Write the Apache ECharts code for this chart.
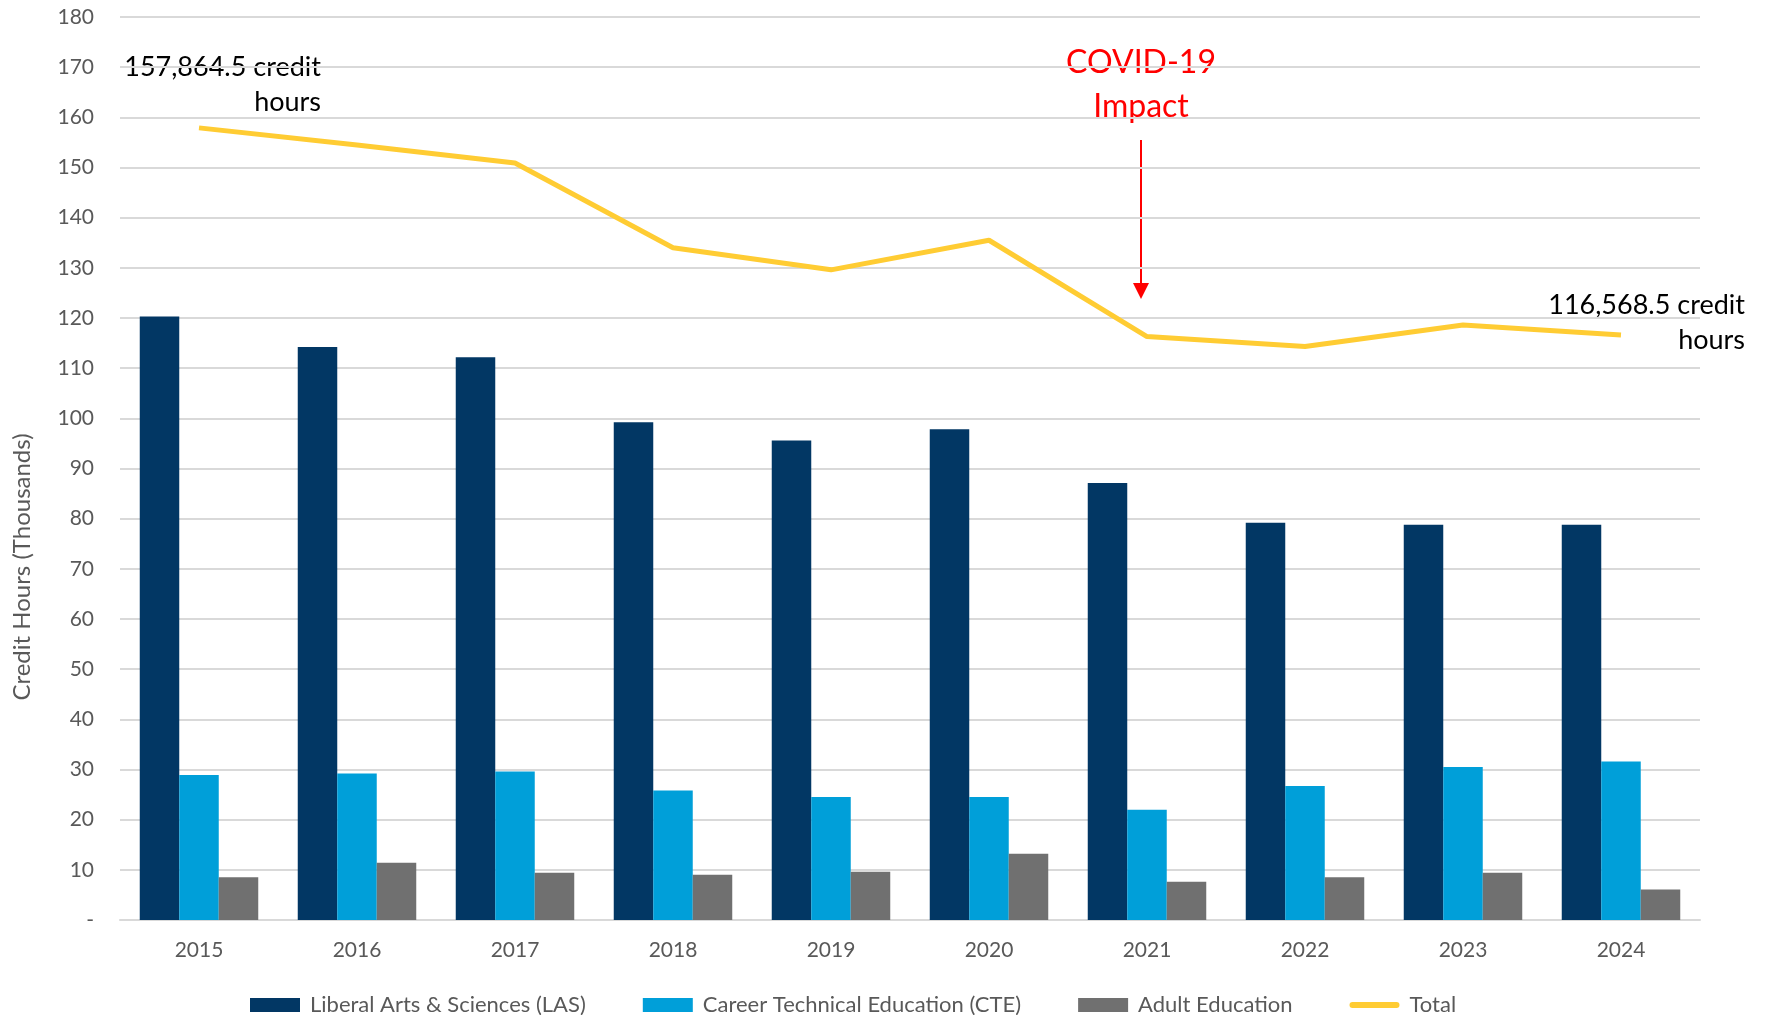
<!DOCTYPE html>
<html>
<head>
<meta charset="utf-8">
<script src="https://cdn.jsdelivr.net/npm/echarts@6/dist/echarts.min.js"></script>
<style>
  html, body { margin: 0; padding: 0; background: #fff; }
  #chart { width: 1765px; height: 1015px; }
</style>
</head>
<body>
<div id="chart"></div>
<script>
const years = ["2015", "2016", "2017", "2018", "2019", "2020", "2021", "2022", "2023", "2024"];
const lasValues = [120.3, 114.2, 112.2, 99.2, 95.6, 97.8, 87.1, 79.2, 78.8, 78.8];
const cteValues = [28.9, 29.2, 29.6, 25.8, 24.5, 24.5, 22.0, 26.7, 30.5, 31.6];
const adultValues = [8.5, 11.4, 9.4, 9.0, 9.6, 13.2, 7.6, 8.5, 9.4, 6.1];
const totalValues = [157.9, 154.5, 150.9, 134.0, 129.6, 135.5, 116.3, 114.3, 118.6, 116.6];

const FONT = "Lato, 'Open Sans', sans-serif";
const labelGrey = "#595959";

const chart = echarts.init(document.getElementById("chart"));

chart.setOption({
  animation: false,
  textStyle: { fontFamily: FONT },
  grid: {
    left: 120,
    right: 65,
    top: 17,
    bottom: 95,
    containLabel: false,
    outerBoundsMode: "none",
  },
  legend: {
    left: 245,
    top: 989,
    itemWidth: 50,
    itemHeight: 14,
    itemGap: 57,
    textStyle: {
      fontSize: 22,
      color: labelGrey,
      fontFamily: FONT,
      padding: [0, 0, 0, 5],
    },
    data: [
      { name: "Liberal Arts & Sciences (LAS)", icon: "rect" },
      { name: "Career Technical Education (CTE)", icon: "rect" },
      { name: "Adult Education", icon: "rect" },
      {
        name: "Total",
        icon: "path://M3,0 L47,0 A3,3 0 0 1 47,6 L3,6 A3,3 0 0 1 3,0 Z",
      },
    ],
  },
  xAxis: {
    type: "category",
    data: years,
    axisLine: { lineStyle: { color: "#d9d9d9", width: 2 } },
    axisTick: { show: false },
    axisLabel: { color: labelGrey, fontSize: 21, margin: 20 },
  },
  yAxis: {
    type: "value",
    min: 0,
    max: 180,
    interval: 10,
    axisLine: { show: false },
    axisTick: { show: false },
    splitLine: { lineStyle: { color: "#d9d9d9", width: 2 } },
    axisLabel: {
      color: labelGrey,
      fontSize: 21,
      margin: 26,
      formatter: (v) => (v === 0 ? "-" : String(v)),
    },
  },
  series: [
    {
      name: "Liberal Arts & Sciences (LAS)",
      type: "bar",
      data: lasValues,
      barGap: "0%",
      barCategoryGap: "25%",
      itemStyle: { color: "#023764" },
    },
    {
      name: "Career Technical Education (CTE)",
      type: "bar",
      data: cteValues,
      itemStyle: { color: "#009FD9" },
    },
    {
      name: "Adult Education",
      type: "bar",
      data: adultValues,
      itemStyle: { color: "#707070" },
    },
    {
      name: "Total",
      type: "line",
      data: totalValues,
      symbol: "none",
      lineStyle: { color: "#FFCC33", width: 5 },
      itemStyle: { color: "#FFCC33" },
      z: 5,
    },
  ],
  graphic: [
    {
      type: "text",
      x: 22,
      y: 567,
      rotation: Math.PI / 2,
      style: {
        text: "Credit Hours (Thousands)",
        align: "center",
        verticalAlign: "middle",
        font: "24px " + FONT,
        fill: labelGrey,
      },
    },
    {
      type: "text",
      x: 321,
      y: 50,
      style: {
        text: "157,864.5 credit\nhours",
        align: "right",
        verticalAlign: "top",
        lineHeight: 35,
        font: "27px " + FONT,
        fill: "#000",
      },
    },
    {
      type: "text",
      x: 1745,
      y: 288,
      style: {
        text: "116,568.5 credit\nhours",
        align: "right",
        verticalAlign: "top",
        lineHeight: 35,
        font: "27px " + FONT,
        fill: "#000",
      },
    },
    {
      type: "text",
      x: 1141,
      y: 41,
      style: {
        text: "COVID-19\nImpact",
        align: "center",
        verticalAlign: "top",
        lineHeight: 44,
        font: "32px " + FONT,
        fill: "#FF0000",
      },
    },
    {
      type: "line",
      shape: { x1: 1141, y1: 140, x2: 1141, y2: 286 },
      style: { stroke: "#FF0000", lineWidth: 2 },
    },
    {
      type: "polygon",
      shape: { points: [[1133, 283], [1149, 283], [1141, 299]] },
      style: { fill: "#FF0000" },
    },
  ],
});
</script>
</body>
</html>
